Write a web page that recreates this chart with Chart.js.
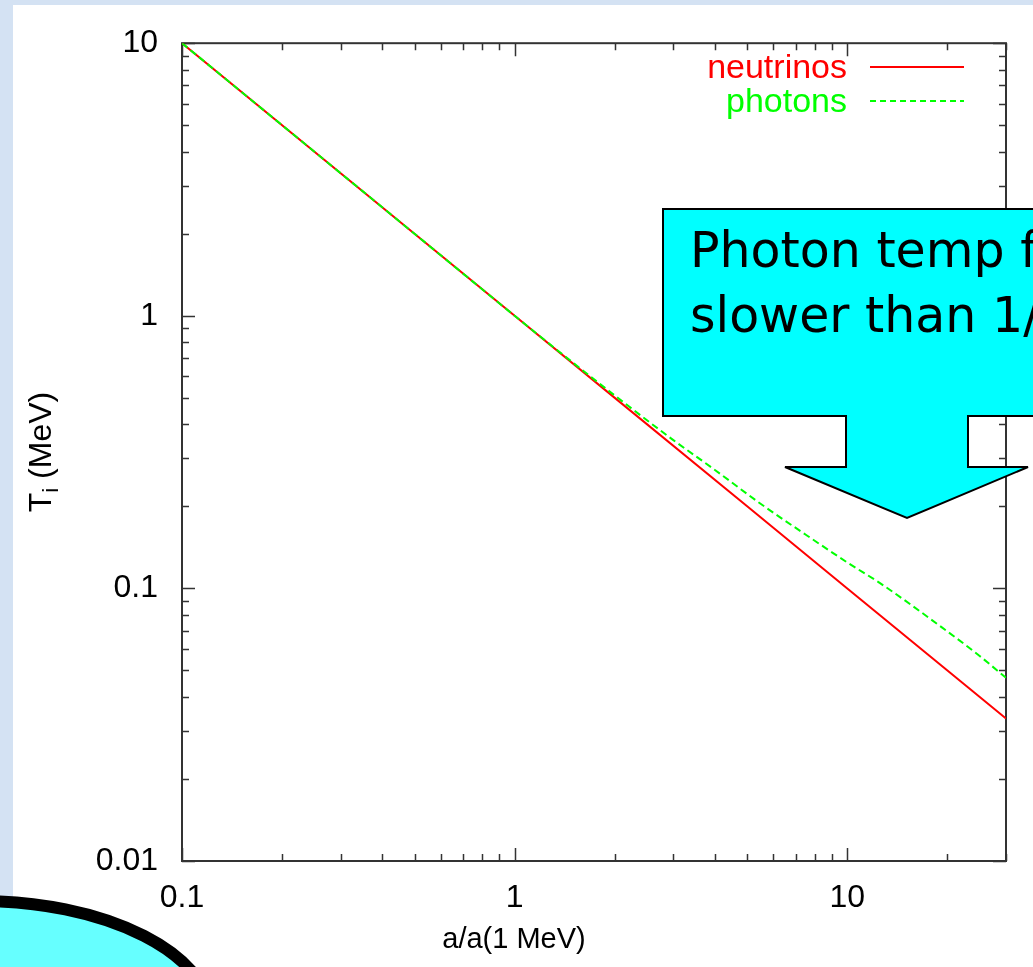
<!DOCTYPE html>
<html lang="en">
<head>
    <meta charset="UTF-8">
    <title>Neutrino and photon temperature</title>
    <script src="https://cdn.jsdelivr.net/npm/chart.js"></script>
    <style>
        html, body { margin: 0; padding: 0; }
        body { width: 1033px; height: 967px; overflow: hidden; position: relative; background: #d4e2f3; }
        .panel { position: absolute; left: 13px; top: 5px; right: 0; bottom: 0; background: #fff; }
        .wrap { position: absolute; left: 0; top: 0; width: 1033px; height: 967px; }
        svg.deco { position: absolute; left: 0; top: 0; }
        .callout { position: absolute; left: 690px; top: 218px; font-family: "Comic Sans MS", "DejaVu Sans", sans-serif;
                   font-size: 49px; line-height: 65px; white-space: nowrap; color: #000; }
    </style>
</head>
<body>
<div class="panel"></div>
<div class="wrap"><canvas id="tempChart"></canvas></div>
<svg class="deco" width="1033" height="967">
    <polygon points="663,209 1040,209 1040,416 968,416 968,467 1028,467 907,518 785,467 846,467 846,416 663,416"
             fill="#00ffff" stroke="#000" stroke-width="2"/>
    <ellipse cx="-20" cy="1020" rx="232" ry="119" fill="#66ffff" stroke="#000" stroke-width="12"/>
</svg>
<div class="callout">Photon temp falls<br>slower than 1/a</div>

<script>
    // valeurs (échelles log-log)
    const neutrinoA = [0.1, 0.5, 1, 2, 5, 10, 20, 30];
    const neutrinoT = [10, 2, 1, 0.5, 0.2, 0.1, 0.05, 0.0333];
    const photonA = [0.1, 0.5, 1, 1.5, 2, 3, 4, 5.5, 7.3, 10, 12.7, 19.2, 25, 30];
    const photonT = [10, 2, 1, 0.672, 0.51, 0.35, 0.272, 0.204, 0.161, 0.1245, 0.1035, 0.0721, 0.0565, 0.047];
    const xTicks = [0.1, 1, 10];
    const yTicks = [0.01, 0.1, 1, 10];

    const FONT = '"Liberation Sans", Arial, sans-serif';
    const AXIS = '#333';

    function toPoints(xs, ys) {
        return xs.map((x, i) => ({ x: x, y: ys[i] }));
    }

    function minorValues(min, max) {
        const out = [];
        for (let d = Math.pow(10, Math.floor(Math.log10(min))); d <= max; d *= 10) {
            for (let k = 1; k <= 9; k++) {
                const v = +(d * k).toPrecision(3);
                if (v >= min && v <= max) out.push({ v: v, major: k === 1 });
            }
        }
        return out;
    }

    // cadre + graduations vers l'intérieur, comme gnuplot
    const frameTicks = {
        id: 'frameTicks',
        beforeDatasetsDraw(chart) {
            const { ctx, chartArea: a, scales } = chart;
            ctx.save();
            ctx.strokeStyle = AXIS;
            ctx.lineWidth = 2;
            ctx.strokeRect(a.left, a.top, a.right - a.left, a.bottom - a.top);
            ctx.lineWidth = 1.5;
            ctx.beginPath();
            minorValues(scales.x.min, scales.x.max).forEach(t => {
                const px = Math.round(scales.x.getPixelForValue(t.v)) + 0.5;
                const len = t.major ? 13 : 7;
                ctx.moveTo(px, a.bottom); ctx.lineTo(px, a.bottom - len);
                ctx.moveTo(px, a.top); ctx.lineTo(px, a.top + len);
            });
            minorValues(scales.y.min, scales.y.max).forEach(t => {
                const py = Math.round(scales.y.getPixelForValue(t.v)) + 0.5;
                const len = t.major ? 13 : 7;
                ctx.moveTo(a.left, py); ctx.lineTo(a.left + len, py);
                ctx.moveTo(a.right, py); ctx.lineTo(a.right - len, py);
            });
            ctx.stroke();
            ctx.restore();
        },
        afterDraw(chart) {
            const { ctx } = chart;
            ctx.save();
            // légende
            ctx.font = '34px ' + FONT;
            ctx.textAlign = 'right';
            ctx.textBaseline = 'alphabetic';
            const items = [
                { text: 'neutrinos', color: '#ff0000', dash: [], y: 78 },
                { text: 'photons', color: '#00ff00', dash: [6, 4], y: 112 }
            ];
            items.forEach(it => {
                ctx.fillStyle = it.color;
                ctx.fillText(it.text, 847, it.y);
                ctx.strokeStyle = it.color;
                ctx.lineWidth = 2;
                ctx.setLineDash(it.dash);
                ctx.beginPath();
                ctx.moveTo(870, it.y - 11);
                ctx.lineTo(964, it.y - 11);
                ctx.stroke();
            });
            ctx.setLineDash([]);

            // titre axe x
            ctx.fillStyle = '#000';
            ctx.textAlign = 'center';
            ctx.textBaseline = 'middle';
            ctx.font = '29px ' + FONT;
            ctx.fillText('a/a(1 MeV)', 514, 940);

            // titre axe y avec indice
            ctx.translate(40, 452);
            ctx.rotate(-Math.PI / 2);
            ctx.textAlign = 'left';
            ctx.textBaseline = 'alphabetic';
            const big = '32px ' + FONT, small = '22px ' + FONT;
            ctx.font = big; const wT = ctx.measureText('T').width;
            const wRest = ctx.measureText(' (MeV)').width;
            ctx.font = small; const wi = ctx.measureText('i').width;
            let x0 = -(wT + wi + wRest) / 2;
            const base = 11;
            ctx.font = big; ctx.fillText('T', x0, base);
            ctx.font = small; ctx.fillText('i', x0 + wT, base + 7);
            ctx.font = big; ctx.fillText(' (MeV)', x0 + wT + wi, base);
            ctx.restore();
        }
    };

    const ctx = document.getElementById('tempChart').getContext('2d');
    new Chart(ctx, {
        type: 'line',
        data: {
            datasets: [
                {
                    label: 'neutrinos',
                    data: toPoints(neutrinoA, neutrinoT),
                    borderColor: '#ff0000',
                    borderWidth: 2,
                    pointRadius: 0,
                    fill: false,
                    order: 2
                },
                {
                    label: 'photons',
                    data: toPoints(photonA, photonT),
                    borderColor: '#00ff00',
                    borderWidth: 2,
                    borderDash: [7, 4],
                    pointRadius: 0,
                    cubicInterpolationMode: 'monotone',
                    fill: false,
                    order: 1
                }
            ]
        },
        options: {
            responsive: true,
            maintainAspectRatio: false,
            animation: false,
            layout: { padding: { left: 0, top: 37, right: 27, bottom: 0 } },
            plugins: { legend: { display: false }, tooltip: { enabled: false } },
            scales: {
                x: {
                    type: 'logarithmic',
                    min: 0.1,
                    max: 30,
                    grid: { display: false, drawTicks: false },
                    border: { display: false },
                    afterBuildTicks: scale => { scale.ticks = xTicks.map(v => ({ value: v })); },
                    afterFit: scale => { scale.height = 106; },
                    ticks: {
                        font: { size: 32, family: FONT },
                        color: '#000',
                        padding: 18,
                        maxRotation: 0,
                        autoSkip: false,
                        callback: v => String(v)
                    }
                },
                y: {
                    type: 'logarithmic',
                    min: 0.01,
                    max: 10,
                    grid: { display: false, drawTicks: false },
                    border: { display: false },
                    afterBuildTicks: scale => { scale.ticks = yTicks.map(v => ({ value: v })); },
                    afterFit: scale => { scale.width = 182; },
                    ticks: {
                        font: { size: 32, family: FONT },
                        color: '#000',
                        padding: 24,
                        autoSkip: false,
                        callback: v => String(v)
                    }
                }
            }
        },
        plugins: [frameTicks]
    });
</script>
</body>
</html>
